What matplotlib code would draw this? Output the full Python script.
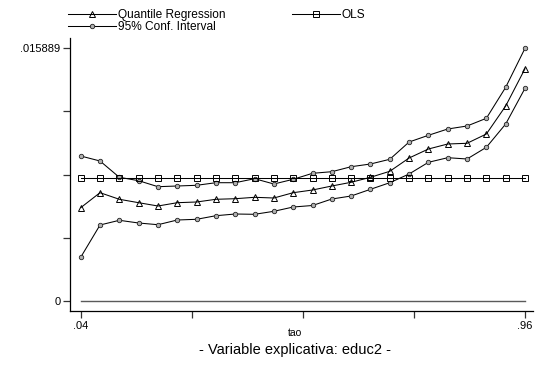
import matplotlib
matplotlib.use("Agg")
import matplotlib.pyplot as plt
import numpy as np

plt.rcParams['font.family'] = ['Liberation Sans', 'DejaVu Sans']

# quantiles
tau = [0.04, 0.08, 0.12, 0.16, 0.20, 0.24, 0.28, 0.32, 0.36, 0.40, 0.44, 0.48,
       0.52, 0.56, 0.60, 0.64, 0.68, 0.72, 0.76, 0.80, 0.84, 0.88, 0.92, 0.96]

qr_coef = [0.005866, 0.006810, 0.006395, 0.006181, 0.005973, 0.006181, 0.006225, 0.006395,
           0.006432, 0.006520, 0.006476, 0.006810, 0.006979, 0.007231, 0.007464, 0.007778,
           0.008155, 0.008991, 0.009557, 0.009872, 0.009916, 0.010500, 0.012261, 0.014606]

ci_upper = [0.009117, 0.008803, 0.007778, 0.007564, 0.007187, 0.007231, 0.007275, 0.007438,
            0.007438, 0.007690, 0.007357, 0.007652, 0.008029, 0.008130, 0.008444, 0.008614,
            0.008910, 0.009997, 0.010419, 0.010815, 0.011003, 0.011488, 0.013437, 0.015889]

ci_lower = [0.002748, 0.004779, 0.005074, 0.004904, 0.004797, 0.005093, 0.005137, 0.005363,
            0.005470, 0.005451, 0.005640, 0.005910, 0.006005, 0.006413, 0.006602, 0.007023,
            0.007438, 0.007985, 0.008721, 0.009010, 0.008929, 0.009664, 0.011129, 0.013374]

ols_coef = 0.007753
y_max = 0.015889

x_ticks = [0.04, 0.27, 0.50, 0.73, 0.96]
x_ticklabels = ['.04', '', '', '', '.96']
y_ticks = [0, y_max / 4, y_max / 2, 3 * y_max / 4, y_max]
y_ticklabels = ['0', '', '', '', '.015889']

W, H = 536, 367
fig = plt.figure(figsize=(W / 100, H / 100), dpi=100)
fig.patch.set_facecolor('white')
ax = fig.add_axes([70 / W, (H - 311) / H, (533 - 70) / W, (311 - 38) / H])

n = len(tau)
lw = 0.75

# zero reference line
ax.plot(tau, [0] * n, color='#5a5a5a', linewidth=1.0)

ax.plot(tau, qr_coef, color='black', linewidth=lw, marker='^', markersize=5,
        mfc='none', mec='black', mew=0.7, label='Quantile Regression')
ax.plot(tau, ci_upper, color='black', linewidth=lw, marker='o', markersize=3.2,
        mfc='#b0b0b0', mec='#222222', mew=0.6, label='95% Conf. Interval')
ax.plot(tau, ci_lower, color='black', linewidth=lw, marker='o', markersize=3.2,
        mfc='#b0b0b0', mec='#222222', mew=0.6)
ax.plot(tau, [ols_coef] * n, color='black', linewidth=lw, marker='s', markersize=4.8,
        mfc='none', mec='black', mew=0.7, label='OLS')

px_x = 0.92 / 444.3
px_y = y_max / 252.7
ax.set_xlim(0.04 - 10.7 * px_x, 0.96 + 8 * px_x)
ax.set_ylim(-10 * px_y, y_max + 10.3 * px_y)

for side in ['top', 'right']:
    ax.spines[side].set_visible(False)
for side in ['left', 'bottom']:
    ax.spines[side].set_linewidth(0.9)
    ax.spines[side].set_color('black')

ax.set_xticks(x_ticks)
ax.set_xticklabels(x_ticklabels)
ax.set_yticks(y_ticks)
ax.set_yticklabels(y_ticklabels)
ax.tick_params(axis='both', direction='out', length=5, width=0.9, color='#333333',
               labelsize=8, pad=2)

fig.text(295 / W, 1 - 333 / H, 'tao', ha='center', va='center', fontsize=7.5)
fig.text(295 / W, 1 - 350 / H, '- Variable explicativa: educ2 -', ha='center',
         va='center', fontsize=10.5)

handles, labels = ax.get_legend_handles_labels()
fig.legend(handles, labels, ncol=2,
           loc='upper left', bbox_to_anchor=(60 / W, 1 - 0.5 / H), frameon=False,
           fontsize=8.6, handlelength=4.0, handletextpad=0.15, columnspacing=5.6,
           labelspacing=0.0, borderpad=0.2)

fig.savefig('out.png', dpi=100, facecolor='white')
